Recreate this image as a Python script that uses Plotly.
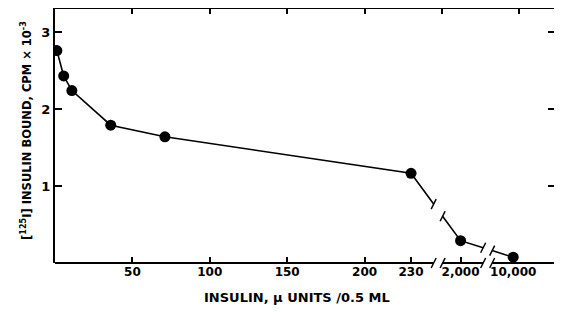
import plotly.graph_objects as go

# Data (x in axis-position units; the axis is broken after 230)
insulin_pos = [1.2, 5.6, 10.9, 36, 71, 230, 262, 296]
bound = [2.76, 2.43, 2.24, 1.79, 1.64, 1.165, 0.29, 0.075]

x_tickvals = [50, 100, 150, 200, 230, 262, 296]
x_ticktext = ["50", "100", "150", "200", "230", "2,000", "10,000"]
top_tickvals = [50, 100, 150, 200, 250, 300]
y_tickvals = [1, 2, 3]
y_ticktext = ["1", "2", "3"]

axis_breaks = [247.5, 279.5]   # centre of each break
break_half = 2.9

X_RANGE = [0, 323]
Y_RANGE = [0, 3.30]
FONT = "DejaVu Sans"

# build line with gaps at breaks
lx, ly = [], []
for i in range(len(insulin_pos) - 1):
    x0, x1 = insulin_pos[i], insulin_pos[i + 1]
    y0, y1 = bound[i], bound[i + 1]
    lx.append(x0); ly.append(y0)
    for b in axis_breaks:
        if x0 < b < x1:
            for xa, add_none in ((b - break_half, True), (b + break_half, False)):
                ya = y0 + (y1 - y0) * (xa - x0) / (x1 - x0)
                lx.append(xa); ly.append(ya)
                if add_none:
                    lx.append(None); ly.append(None)
lx.append(insulin_pos[-1]); ly.append(bound[-1])

fig = go.Figure()
fig.add_trace(go.Scatter(x=lx, y=ly, mode="lines",
                         line=dict(color="black", width=1.6),
                         hoverinfo="skip", showlegend=False))
fig.add_trace(go.Scatter(x=insulin_pos, y=bound, mode="markers",
                         marker=dict(color="black", size=11),
                         showlegend=False))
fig.add_trace(go.Scatter(x=[X_RANGE[0]], y=[None], xaxis="x2", mode="none",
                         showlegend=False, hoverinfo="skip"))

shapes = []
# bottom axis line with gaps
edges = [X_RANGE[0]]
for b in axis_breaks:
    edges += [b - break_half, b + break_half]
edges.append(X_RANGE[1])
for a, c in zip(edges[0::2], edges[1::2]):
    shapes.append(dict(type="line", xref="x", yref="paper", x0=a, x1=c, y0=0, y1=0,
                       line=dict(color="black", width=2)))

def slash(xv, yv, yref):
    return dict(type="line", xref="x", yref=yref,
                xsizemode="pixel", xanchor=xv, x0=-2.5, x1=2.5,
                ysizemode="pixel", yanchor=yv, y0=-5, y1=5,
                line=dict(color="black", width=1.5))

for b in axis_breaks:
    for s in (-1, 1):
        shapes.append(slash(b + s * break_half, 0, "paper"))
    # on the data line
    for i in range(len(insulin_pos) - 1):
        x0, x1 = insulin_pos[i], insulin_pos[i + 1]
        if x0 < b < x1:
            y0, y1 = bound[i], bound[i + 1]
            for s in (-1, 1):
                xa = b + s * break_half
                ya = y0 + (y1 - y0) * (xa - x0) / (x1 - x0)
                shapes.append(slash(xa, ya, "y"))

fig.update_layout(
    width=554, height=304,
    margin=dict(l=47, r=7, t=1, b=49, autoexpand=False),
    paper_bgcolor="white", plot_bgcolor="white",
    font=dict(family=FONT, size=13, color="black"),
    showlegend=False,
    xaxis=dict(range=X_RANGE, showline=False, showgrid=False, zeroline=False,
               automargin=False,
               tickmode="array", tickvals=x_tickvals, ticktext=x_ticktext,
               ticks="inside", ticklen=6, tickwidth=1.5, tickcolor="black",
               tickfont=dict(family=FONT, size=12, weight="bold")),
    xaxis2=dict(range=X_RANGE, overlaying="x", side="top", anchor="y",
                automargin=False,
                showline=True, linecolor="black", linewidth=2,
                showgrid=False, zeroline=False, showticklabels=False,
                tickmode="array", tickvals=top_tickvals,
                ticks="inside", ticklen=5, tickwidth=1.5, tickcolor="black"),
    yaxis=dict(range=Y_RANGE, showline=True, linecolor="black", linewidth=2,
               automargin=False,
               mirror="ticks", showgrid=False, zeroline=False,
               tickmode="array", tickvals=y_tickvals, ticktext=y_ticktext,
               ticks="inside", ticklen=7, tickwidth=1.5, tickcolor="black",
               tickfont=dict(family=FONT, size=13, weight="bold")),
    shapes=shapes,
    annotations=[
        dict(text="<b>[<sup>125</sup>I] INSULIN BOUND, CPM × 10<sup>-3</sup></b>",
             xref="paper", yref="paper", x=-0.056, y=0.52,
             xanchor="center", yanchor="middle", textangle=-90,
             showarrow=False, font=dict(family=FONT, size=11.5)),
        dict(text="<b>INSULIN, μ UNITS /0.5 ML</b>",
             xref="paper", yref="paper", x=0.484, y=-0.134,
             xanchor="center", yanchor="middle",
             showarrow=False, font=dict(family=FONT, size=13)),
    ],
)

fig.write_html("out.html")
